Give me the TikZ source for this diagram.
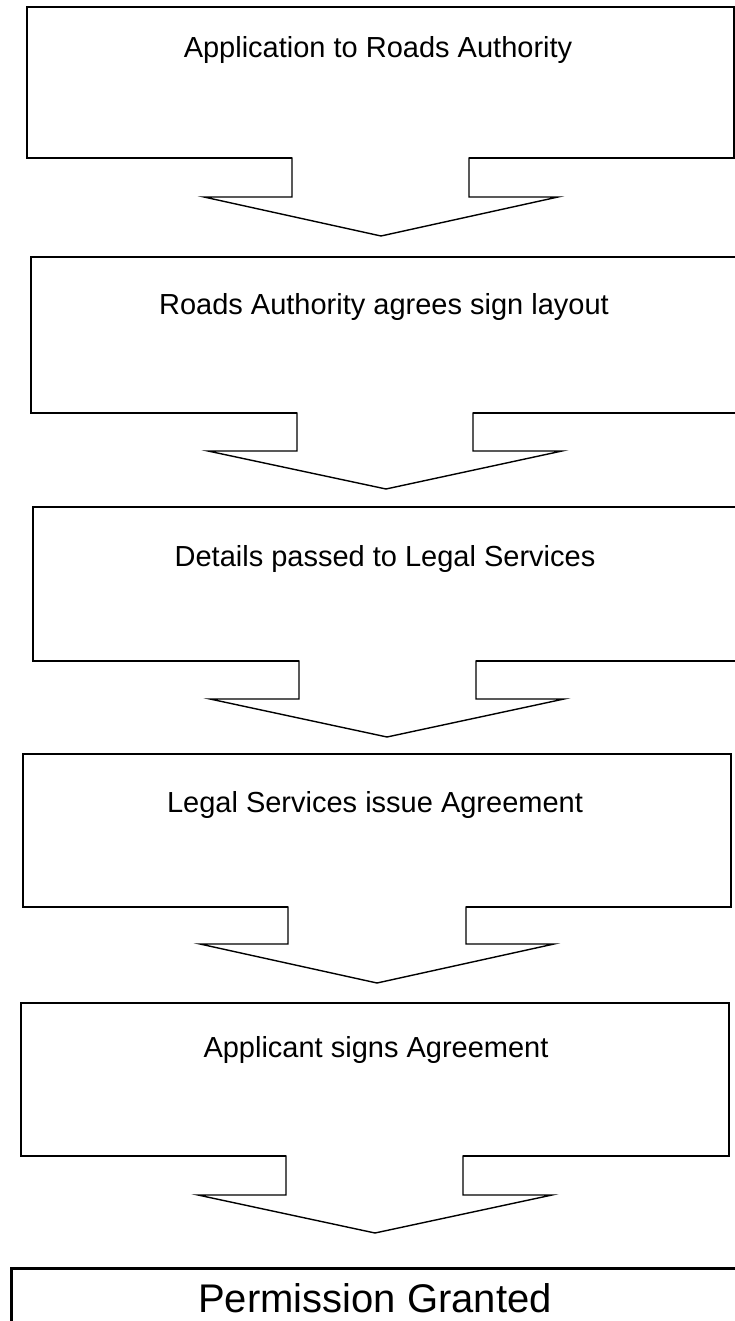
\documentclass[tikz,border=0pt]{standalone}
\usepackage{fontspec}
\setmainfont{Liberation Sans}
\begin{document}
\begin{tikzpicture}[x=1pt,y=-1pt,
  stagebox/.style={draw=black, line width=1.4pt, inner sep=0pt, fill=white},
  stagetext/.style={anchor=base, inner sep=0pt, font=\fontsize{29}{34}\selectfont},
  finaltext/.style={anchor=base, inner sep=0pt, font=\fontsize{40}{46}\selectfont},
  blockarrow/.style={draw=black, line width=1.4pt, line join=miter}]
\clip (0,0) rectangle (735,1321);
\fill[white] (0,0) rectangle (735,1321);

% boxes
\node[stagebox, minimum width=707pt, minimum height=151pt] (b1) at (380.5,82.5) {};
\node[stagebox, minimum width=714pt, minimum height=156pt] (b2) at (388,335) {};
\node[stagebox, minimum width=712pt, minimum height=154pt] (b3) at (389,584) {};
\node[stagebox, minimum width=708pt, minimum height=153pt] (b4) at (377,830.5) {};
\node[stagebox, minimum width=708pt, minimum height=153pt] (b5) at (375,1079.5) {};
\node[stagebox, line width=3pt, minimum width=739pt, minimum height=72pt] (b6) at (380.5,1304) {};

% texts
\node[stagetext] (t1) at (378,58) {Application to Roads Authority};
\node[stagetext] (t2) at (384,315) {Roads Authority agrees sign layout};
\node[stagetext] (t3) at (385,566) {Details passed to Legal Services};
\node[stagetext] (t4) at (375,812) {Legal Services issue Agreement};
\node[stagetext] (t5) at (376,1057) {Applicant signs Agreement};
\node[finaltext] (t6) at (375,1312) {Permission Granted};

% block arrows: stemL, stemR, topY, headY, headL, headR, tipX, tipY
\newcommand{\blockarrowdraw}[8]{%
  \fill[white] (#1,#3-1.5) rectangle (#2,#3+1.5);
  \draw[blockarrow] (#1,#3-0.7) -- (#1,#4) -- (#5,#4) -- (#7,#8) -- (#6,#4) -- (#2,#4) -- (#2,#3-0.7);
}
\blockarrowdraw{292}{469}{158}{197}{204}{558}{381}{236}
\blockarrowdraw{297}{473}{413}{451}{208}{562}{386}{489}
\blockarrowdraw{299}{476}{661}{699}{210}{564}{387}{737}
\blockarrowdraw{288}{466}{907}{944}{200}{554}{377}{983}
\blockarrowdraw{286}{463}{1156}{1195}{198}{552}{375}{1233}
\end{tikzpicture}
\end{document}
